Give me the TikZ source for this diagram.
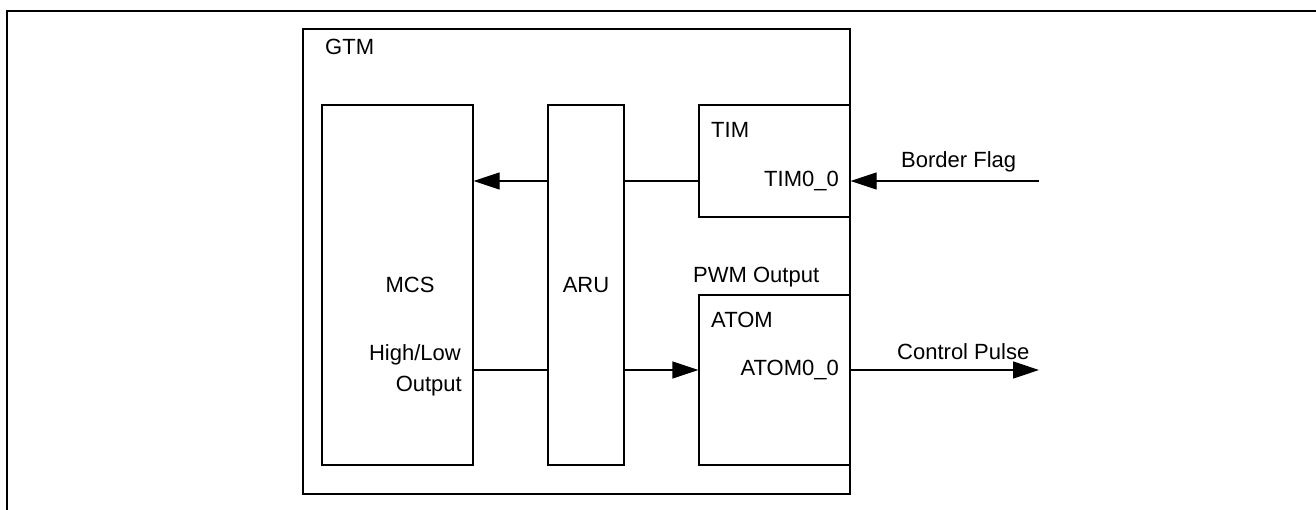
\documentclass[tikz,border=0pt]{standalone}
\usepackage{fontspec}
\setmainfont{Liberation Sans}
\usetikzlibrary{arrows.meta}
\begin{document}
\begin{tikzpicture}[x=1pt,y=-1pt,
  box/.style={draw, line width=1.3pt, inner sep=0pt},
  lbl/.style={font=\fontsize{22}{26}\selectfont, inner sep=0pt},
  conn/.style={line width=1.3pt},
  arr/.style={conn, -{Triangle[length=26pt,width=17pt]}}]
\useasboundingbox (0,0) rectangle (1316,510);
\draw[line width=2.6pt] (7,520) -- (7,11) -- (1330,11);
% boxes
\node[box, minimum width=547pt, minimum height=465pt] (gtm) at (576.5,261.5) {};
\node[box, minimum width=151pt, minimum height=360pt] (mcs) at (397.5,285) {};
\node[box, minimum width=76pt, minimum height=360pt] (aru) at (586,285) {};
\node[box, minimum width=151pt, minimum height=112pt] (tim) at (774.5,161) {};
\node[box, minimum width=151pt, minimum height=170pt] (atom) at (774.5,380) {};
% labels
\node[lbl, anchor=west] (gtmlbl) at (325,47) {GTM};
\node[lbl] (mcslbl) at (410,285) {MCS};
\node[lbl] (arulbl) at (586,285) {ARU};
\node[lbl, anchor=west] (timlbl) at (711,130) {TIM};
\node[lbl, anchor=east] (tim0) at (839,181) {TIM0\_0};
\node[lbl, anchor=west] (bflbl) at (901,162) {Border Flag};
\node[lbl, anchor=west] (pwmlbl) at (693,277) {PWM Output};
\node[lbl, anchor=west] (atomlbl) at (711,320) {ATOM};
\node[lbl, anchor=east] (atom0) at (839,370) {ATOM0\_0};
\node[lbl, anchor=west] (cplbl) at (897,352) {Control Pulse};
\node[lbl, anchor=east] (hllbl) at (461,355) {High/Low};
\node[lbl, anchor=east] (outlbl) at (462,386) {Output};
% connectors
\coordinate (bfin) at (1039,181);
\coordinate (cpout) at (1039,370);
\draw[arr] (bfin) -- (tim.east |- bfin);
\draw[conn] (tim.west |- bfin) -- (aru.east |- bfin);
\draw[arr] (aru.west |- bfin) -- (mcs.east |- bfin);
\draw[conn] (mcs.east |- cpout) -- (aru.west |- cpout);
\draw[arr] (aru.east |- cpout) -- (atom.west |- cpout);
\draw[arr] (atom.east |- cpout) -- (cpout);
\end{tikzpicture}
\end{document}
